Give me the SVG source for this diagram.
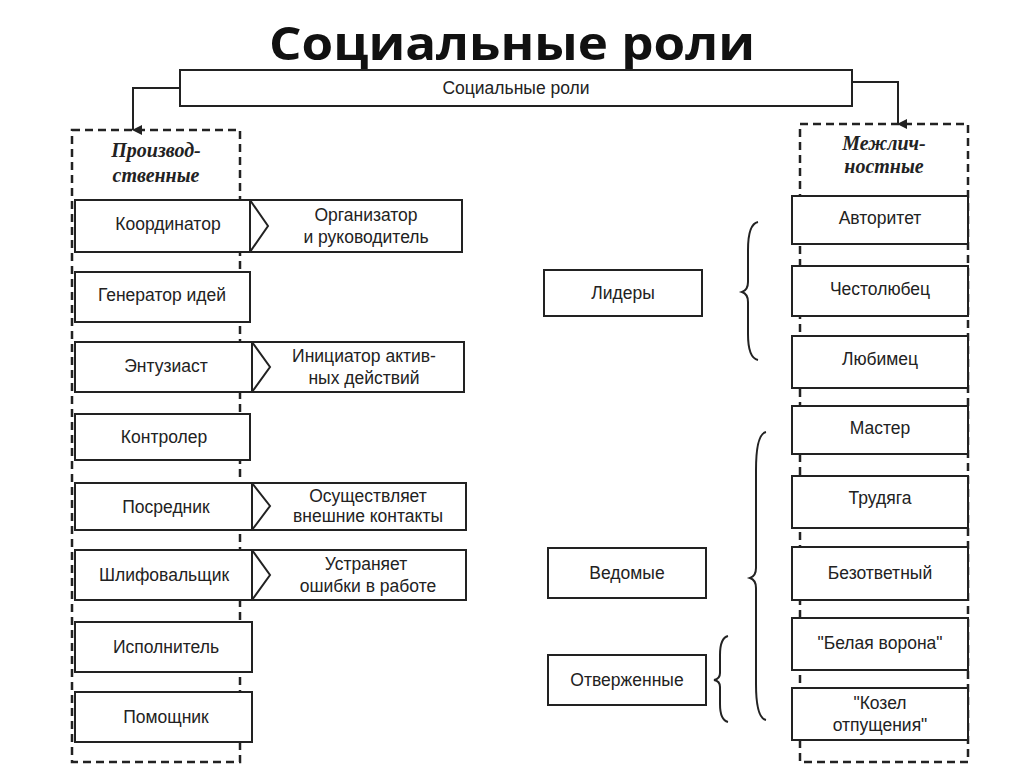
<svg xmlns="http://www.w3.org/2000/svg" width="1024" height="767" viewBox="0 0 1024 767">
<style>
.b{fill:#fff;stroke:#222;stroke-width:2}
.d{fill:none;stroke:#222;stroke-width:2.5;stroke-dasharray:8 5}
.t{font-family:"Liberation Sans",Arial,sans-serif;font-size:17.5px;fill:#222;text-anchor:middle}
.i{font-family:"Liberation Serif",serif;font-size:20px;font-style:italic;font-weight:bold;fill:#222;text-anchor:middle}
.c{fill:none;stroke:#222;stroke-width:2}
</style>
<defs><marker id="a" markerWidth="10" markerHeight="10" refX="5" refY="9" orient="auto-start-reverse" markerUnits="userSpaceOnUse"><path d="M0,0 L10,0 L5,10 Z" fill="#222"/></marker></defs>
<rect width="1024" height="767" fill="#fff"/>
<text x="512" y="60" font-family="Open Sans,Liberation Sans,Arial,sans-serif" font-size="46" font-weight="bold" text-anchor="middle" fill="#111" textLength="486" lengthAdjust="spacingAndGlyphs">Социальные роли</text>
<g id="root"><rect class="b" x="180" y="70" width="672" height="36"/><text class="t" x="516" y="94">Социальные роли</text></g>
<g id="connectors">
<path class="c" d="M180,88 H133 V130" marker-end="url(#a)"/>
<path class="c" d="M852,82 H898 V124" marker-end="url(#a)"/>
<path class="c" d="M758,222 Q748,224 748,250 V282 Q748,290 742,292 Q748,294 748,302 V334 Q748,358 758,360"/>
<path class="c" d="M766,432 Q756,434 756,470 V568 Q756,576 750,578 Q756,580 756,588 V684 Q756,718 766,720"/>
<path class="c" d="M728,636 Q720,638 720,655 V673 Q720,679 714,680 Q720,681 720,687 V704 Q720,720 728,722"/>
</g>
<g id="prod"><rect class="d" x="72" y="130" width="168" height="632"/><text class="i" x="156" y="157">Производ-</text><text class="i" x="156" y="182">ственные</text></g>
<g id="mezh"><rect class="d" x="800" y="124" width="168" height="638"/><text class="i" x="884" y="150">Межлич-</text><text class="i" x="884" y="173">ностные</text></g>
<g id="koord"><rect class="b" x="75" y="200" width="175" height="52"/><text class="t" x="168" y="230">Координатор</text></g>
<g id="koord2"><path class="b" d="M250,200 H462 V252 H250 L268,226 Z"/><text class="t" x="366" y="221">Организатор</text><text class="t" x="366" y="243">и руководитель</text></g>
<g id="gen"><rect class="b" x="75" y="272" width="175" height="50"/><text class="t" x="162" y="301">Генератор идей</text></g>
<g id="entuz"><rect class="b" x="75" y="342" width="177" height="50"/><text class="t" x="166" y="372">Энтузиаст</text></g>
<g id="entuz2"><path class="b" d="M252,342 H464 V392 H252 L270,367 Z"/><text class="t" x="364" y="362">Инициатор актив-</text><text class="t" x="364" y="384">ных действий</text></g>
<g id="kontr"><rect class="b" x="75" y="414" width="175" height="46"/><text class="t" x="164" y="443">Контролер</text></g>
<g id="posr"><rect class="b" x="75" y="483" width="177" height="47"/><text class="t" x="166" y="513">Посредник</text></g>
<g id="posr2"><path class="b" d="M252,483 H466 V530 H252 L270,506 Z"/><text class="t" x="368" y="502" font-size="15">Осуществляет</text><text class="t" x="368" y="522" font-size="15">внешние контакты</text></g>
<g id="shlif"><rect class="b" x="75" y="550" width="177" height="50"/><text class="t" x="164" y="581">Шлифовальщик</text></g>
<g id="shlif2"><path class="b" d="M252,550 H466 V600 H252 L270,575 Z"/><text class="t" x="366" y="570">Устраняет</text><text class="t" x="368" y="592">ошибки в работе</text></g>
<g id="ispol"><rect class="b" x="75" y="622" width="177" height="50"/><text class="t" x="166" y="653">Исполнитель</text></g>
<g id="pomosh"><rect class="b" x="75" y="692" width="177" height="50"/><text class="t" x="166" y="723">Помощник</text></g>
<g id="lidery"><rect class="b" x="544" y="270" width="158" height="46"/><text class="t" x="623" y="299">Лидеры</text></g>
<g id="vedomye"><rect class="b" x="548" y="548" width="158" height="50"/><text class="t" x="627" y="579">Ведомые</text></g>
<g id="otverzh"><rect class="b" x="548" y="655" width="158" height="50"/><text class="t" x="627" y="686">Отверженные</text></g>
<g id="avtor"><rect class="b" x="792" y="196" width="176" height="48"/><text class="t" x="880" y="224">Авторитет</text></g>
<g id="chest"><rect class="b" x="792" y="266" width="176" height="50"/><text class="t" x="880" y="295">Честолюбец</text></g>
<g id="lyub"><rect class="b" x="792" y="336" width="176" height="52"/><text class="t" x="880" y="365">Любимец</text></g>
<g id="master"><rect class="b" x="792" y="406" width="176" height="48"/><text class="t" x="880" y="434">Мастер</text></g>
<g id="trud"><rect class="b" x="792" y="476" width="176" height="52"/><text class="t" x="880" y="504">Трудяга</text></g>
<g id="bezotv"><rect class="b" x="792" y="547" width="176" height="53"/><text class="t" x="880" y="579">Безответный</text></g>
<g id="belaya"><rect class="b" x="792" y="618" width="176" height="52"/><text class="t" x="880" y="649">"Белая ворона"</text></g>
<g id="kozel"><rect class="b" x="792" y="688" width="176" height="52"/><text class="t" x="880" y="709">"Козел</text><text class="t" x="880" y="731">отпущения"</text></g>
</svg>
